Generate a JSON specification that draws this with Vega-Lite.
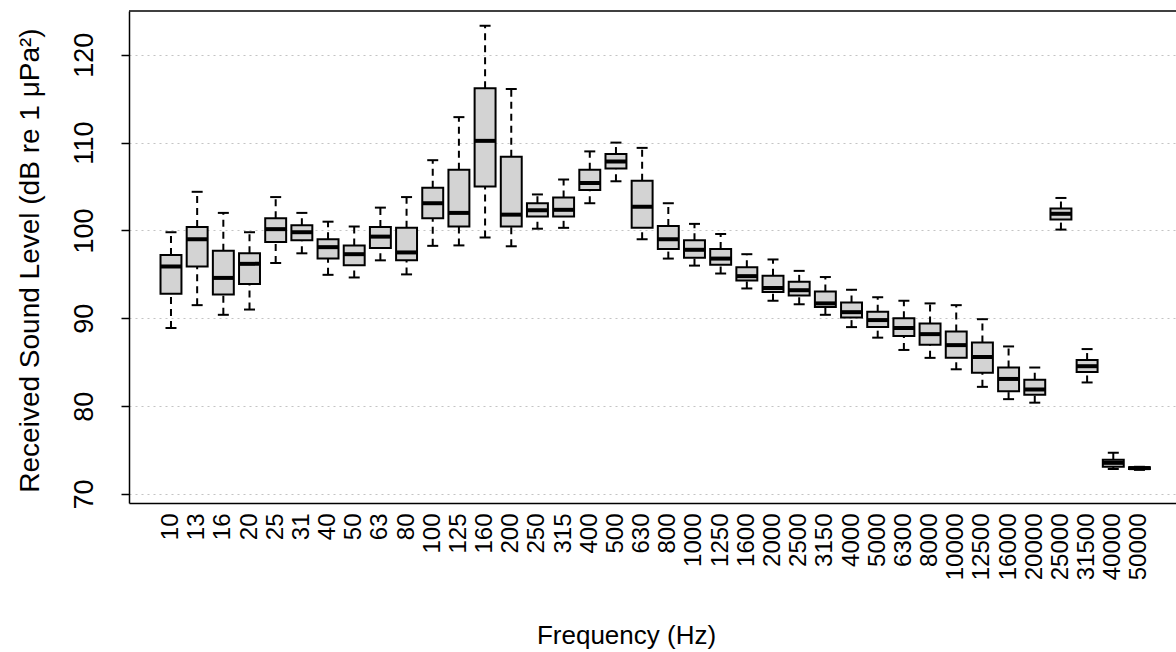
{
  "$schema": "https://vega.github.io/schema/vega-lite/v6.json",
  "width": 1047,
  "height": 492,
  "autosize": {"type": "none"},
  "padding": {"left": 129, "top": 11, "right": 0, "bottom": 149},
  "background": "white",
  "data": {"values": [
    {"freq": "10", "lo": 88.9, "q1": 92.8, "med": 95.9, "q3": 97.2, "hi": 99.8},
    {"freq": "13", "lo": 91.5, "q1": 95.9, "med": 99.0, "q3": 100.4, "hi": 104.4},
    {"freq": "16", "lo": 90.4, "q1": 92.7, "med": 94.6, "q3": 97.7, "hi": 102.0},
    {"freq": "20", "lo": 91.0, "q1": 93.9, "med": 96.2, "q3": 97.4, "hi": 99.8},
    {"freq": "25", "lo": 96.3, "q1": 98.7, "med": 100.15, "q3": 101.4, "hi": 103.8},
    {"freq": "31", "lo": 97.4, "q1": 98.9, "med": 99.8, "q3": 100.6, "hi": 102.0},
    {"freq": "40", "lo": 94.95, "q1": 96.8, "med": 98.1, "q3": 99.0, "hi": 101.0},
    {"freq": "50", "lo": 94.65, "q1": 96.05, "med": 97.3, "q3": 98.3, "hi": 100.45},
    {"freq": "63", "lo": 96.6, "q1": 98.0, "med": 99.3, "q3": 100.4, "hi": 102.6},
    {"freq": "80", "lo": 95.0, "q1": 96.6, "med": 97.5, "q3": 100.3, "hi": 103.8},
    {"freq": "100", "lo": 98.25, "q1": 101.4, "med": 103.1, "q3": 104.85, "hi": 108.0},
    {"freq": "125", "lo": 98.3, "q1": 100.45, "med": 102.0, "q3": 106.9, "hi": 112.9},
    {"freq": "160", "lo": 99.2, "q1": 105.0, "med": 110.2, "q3": 116.2, "hi": 123.3},
    {"freq": "200", "lo": 98.2, "q1": 100.45, "med": 101.8, "q3": 108.4, "hi": 116.1},
    {"freq": "250", "lo": 100.2, "q1": 101.6, "med": 102.3, "q3": 103.1, "hi": 104.1},
    {"freq": "315", "lo": 100.3, "q1": 101.6, "med": 102.35, "q3": 103.75, "hi": 105.8},
    {"freq": "400", "lo": 103.1, "q1": 104.6, "med": 105.4, "q3": 106.9, "hi": 109.0},
    {"freq": "500", "lo": 105.6, "q1": 107.05, "med": 107.85, "q3": 108.7, "hi": 110.0},
    {"freq": "630", "lo": 99.0, "q1": 100.3, "med": 102.7, "q3": 105.65, "hi": 109.4},
    {"freq": "800", "lo": 96.8, "q1": 97.9, "med": 99.0, "q3": 100.5, "hi": 103.1},
    {"freq": "1000", "lo": 96.0, "q1": 96.9, "med": 97.8, "q3": 98.9, "hi": 100.75},
    {"freq": "1250", "lo": 95.1, "q1": 96.1, "med": 96.8, "q3": 97.9, "hi": 99.6},
    {"freq": "1600", "lo": 93.4, "q1": 94.3, "med": 94.8, "q3": 95.8, "hi": 97.3},
    {"freq": "2000", "lo": 92.0, "q1": 93.0, "med": 93.45, "q3": 94.85, "hi": 96.7},
    {"freq": "2500", "lo": 91.6, "q1": 92.6, "med": 93.2, "q3": 94.15, "hi": 95.4},
    {"freq": "3150", "lo": 90.4, "q1": 91.3, "med": 91.7, "q3": 93.05, "hi": 94.7},
    {"freq": "4000", "lo": 89.0, "q1": 90.1, "med": 90.7, "q3": 91.8, "hi": 93.25},
    {"freq": "5000", "lo": 87.8, "q1": 89.0, "med": 89.8, "q3": 90.75, "hi": 92.4},
    {"freq": "6300", "lo": 86.4, "q1": 88.0, "med": 88.9, "q3": 90.0, "hi": 92.0},
    {"freq": "8000", "lo": 85.5, "q1": 87.0, "med": 88.2, "q3": 89.4, "hi": 91.7},
    {"freq": "10000", "lo": 84.2, "q1": 85.5, "med": 86.95, "q3": 88.5, "hi": 91.5},
    {"freq": "12500", "lo": 82.2, "q1": 83.8, "med": 85.6, "q3": 87.25, "hi": 89.9},
    {"freq": "16000", "lo": 80.8, "q1": 81.7, "med": 83.1, "q3": 84.4, "hi": 86.8},
    {"freq": "20000", "lo": 80.4, "q1": 81.3, "med": 81.9, "q3": 83.0, "hi": 84.4},
    {"freq": "25000", "lo": 100.1, "q1": 101.25, "med": 101.9, "q3": 102.5, "hi": 103.7},
    {"freq": "31500", "lo": 82.7, "q1": 83.9, "med": 84.55, "q3": 85.25, "hi": 86.5},
    {"freq": "40000", "lo": 72.85, "q1": 73.1, "med": 73.55, "q3": 73.9, "hi": 74.7},
    {"freq": "50000", "lo": 72.75, "q1": 72.85, "med": 72.95, "q3": 73.05, "hi": 73.1}
  ]},
  "layer": [
    {
      "mark": {"type": "rule", "color": "black", "strokeWidth": 2, "strokeDash": [7, 5]},
      "encoding": {
        "x": {"field": "freq", "type": "nominal", "sort": null, "title": "Frequency (Hz)",
              "scale": {"type": "band", "paddingInner": 0, "paddingOuter": 1.37, "align": 0.552}},
        "y": {"field": "lo", "type": "quantitative", "title": "Received Sound Level (dB re 1 μPa²)",
              "scale": {"domain": [68.98, 124.98], "nice": false, "zero": false},
              "axis": {"values": [70, 80, 90, 100, 110, 120]}},
        "y2": {"field": "q1"}
      }
    },
    {
      "mark": {"type": "rule", "color": "black", "strokeWidth": 2, "strokeDash": [7, 5]},
      "encoding": {
        "x": {"field": "freq", "type": "nominal", "sort": null, "title": "Frequency (Hz)",
              "scale": {"type": "band", "paddingInner": 0, "paddingOuter": 1.37, "align": 0.552}},
        "y": {"field": "q3", "type": "quantitative", "title": "Received Sound Level (dB re 1 μPa²)",
              "scale": {"domain": [68.98, 124.98], "nice": false, "zero": false},
              "axis": {"values": [70, 80, 90, 100, 110, 120]}},
        "y2": {"field": "hi"}
      }
    },
    {
      "mark": {"type": "tick", "color": "black", "size": 11, "thickness": 2, "opacity": 1},
      "encoding": {
        "x": {"field": "freq", "type": "nominal", "sort": null, "title": "Frequency (Hz)",
              "scale": {"type": "band", "paddingInner": 0, "paddingOuter": 1.37, "align": 0.552}},
        "y": {"field": "lo", "type": "quantitative", "title": "Received Sound Level (dB re 1 μPa²)",
              "scale": {"domain": [68.98, 124.98], "nice": false, "zero": false},
              "axis": {"values": [70, 80, 90, 100, 110, 120]}}
      }
    },
    {
      "mark": {"type": "tick", "color": "black", "size": 11, "thickness": 2, "opacity": 1},
      "encoding": {
        "x": {"field": "freq", "type": "nominal", "sort": null, "title": "Frequency (Hz)",
              "scale": {"type": "band", "paddingInner": 0, "paddingOuter": 1.37, "align": 0.552}},
        "y": {"field": "hi", "type": "quantitative", "title": "Received Sound Level (dB re 1 μPa²)",
              "scale": {"domain": [68.98, 124.98], "nice": false, "zero": false},
              "axis": {"values": [70, 80, 90, 100, 110, 120]}}
      }
    },
    {
      "mark": {"type": "bar", "fill": "#d3d3d3", "stroke": "black", "strokeWidth": 2, "width": {"band": 0.8}},
      "encoding": {
        "x": {"field": "freq", "type": "nominal", "sort": null, "title": "Frequency (Hz)",
              "scale": {"type": "band", "paddingInner": 0, "paddingOuter": 1.37, "align": 0.552}},
        "y": {"field": "q1", "type": "quantitative", "title": "Received Sound Level (dB re 1 μPa²)",
              "scale": {"domain": [68.98, 124.98], "nice": false, "zero": false},
              "axis": {"values": [70, 80, 90, 100, 110, 120]}},
        "y2": {"field": "q3"}
      }
    },
    {
      "mark": {"type": "tick", "color": "black", "size": 21, "thickness": 4, "opacity": 1},
      "encoding": {
        "x": {"field": "freq", "type": "nominal", "sort": null, "title": "Frequency (Hz)",
              "scale": {"type": "band", "paddingInner": 0, "paddingOuter": 1.37, "align": 0.552}},
        "y": {"field": "med", "type": "quantitative", "title": "Received Sound Level (dB re 1 μPa²)",
              "scale": {"domain": [68.98, 124.98], "nice": false, "zero": false},
              "axis": {"values": [70, 80, 90, 100, 110, 120]}}
      }
    },
    {
      "data": {"values": [{"edge": "top"}]},
      "mark": {"type": "rule", "color": "black", "strokeWidth": 1.5},
      "encoding": {
        "y": {"datum": 124.98, "type": "quantitative", "title": "Received Sound Level (dB re 1 μPa²)",
              "scale": {"domain": [68.98, 124.98], "nice": false, "zero": false},
              "axis": {"values": [70, 80, 90, 100, 110, 120]}}
      }
    }
  ],
  "config": {
    "view": {"stroke": null},
    "font": "Liberation Sans",
    "axisX": {
      "domainColor": "black", "domainWidth": 1.5,
      "ticks": false, "tickSize": 0,
      "labelAngle": 270, "labelAlign": "right", "labelBaseline": "middle",
      "labelPadding": 10, "labelFontSize": 24, "labelColor": "black", "labelOverlap": false,
      "labelFont": "Liberation Sans",
      "titleFont": "Liberation Sans", "titleFontSize": 26, "titleFontWeight": "normal", "titleColor": "black",
      "titleX": 497, "titleY": 140, "titleBaseline": "alphabetic", "titleAlign": "center",
      "grid": false
    },
    "axisY": {
      "domainColor": "black", "domainWidth": 1.5,
      "tickColor": "black", "tickWidth": 1.5, "tickSize": 8,
      "labelAngle": 270, "labelAlign": "center", "labelBaseline": "alphabetic",
      "labelPadding": 29, "labelFontSize": 27, "labelColor": "black",
      "labelFont": "Liberation Sans",
      "titleFont": "Liberation Sans", "titleFontSize": 28, "titleFontWeight": "normal", "titleColor": "black",
      "titleAngle": 270, "titleX": -91, "titleY": 249, "titleBaseline": "alphabetic", "titleAlign": "center",
      "grid": true, "gridColor": "#c4c4c4", "gridDash": [2, 4], "gridWidth": 1.2,
      "zindex": 1
    }
  }
}
